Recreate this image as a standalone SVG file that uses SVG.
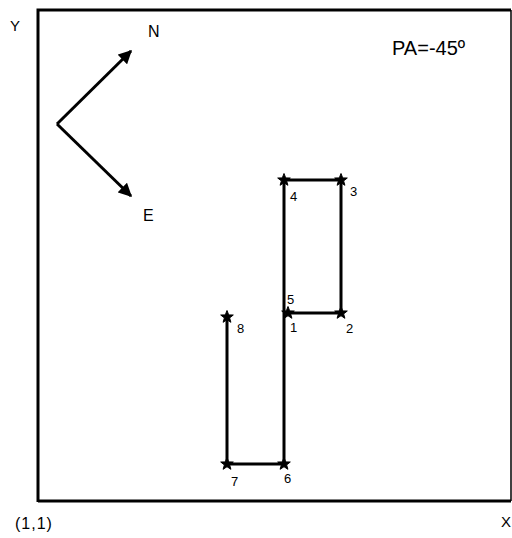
<svg xmlns="http://www.w3.org/2000/svg" width="512" height="538" viewBox="0 0 512 538">
<style>
text{font-family:"Liberation Sans",Arial,sans-serif;fill:#000}
.lbl{font-size:13px}
.ax{font-size:15px}
.path{stroke:#000;stroke-width:3;fill:none}
.cmp{stroke:#000;stroke-width:3;fill:none}
</style>
<defs>
<marker id="ah" viewBox="0 0 10 10" refX="9" refY="5" markerWidth="4.5" markerHeight="4.5" orient="auto" markerUnits="strokeWidth">
<path d="M0,0 L10,5 L0,10 z" fill="#000"/>
</marker>
<polygon id="star" points="0,-6.5 1.7,-2.1 6.3,-2 2.6,0.9 3.9,5.3 0,2.7 -3.9,5.3 -2.6,0.9 -6.3,-2 -1.7,-2.1" fill="#000" stroke="#000" stroke-width="1"/>
</defs>
<rect width="512" height="538" fill="#fff"/>
<g id="frame">
<path d="M38,502 V10 H511" stroke="#000" stroke-width="3" fill="none"/>
<path d="M511,10 V501" stroke="#000" stroke-width="1.5" fill="none"/>
<path d="M38,501 H511" stroke="#000" stroke-width="3" fill="none"/>
</g>
<g id="axis-labels">
<text class="ax" x="10" y="31">Y</text>
<text x="15" y="529" font-size="16" letter-spacing="1">(1,1)</text>
<text class="ax" x="501" y="527">X</text>
<text x="392" y="55" font-size="20">PA=-45º</text>
</g>
<g id="compass">
<line class="cmp" x1="57" y1="124" x2="131" y2="51" marker-end="url(#ah)"/>
<line class="cmp" x1="57" y1="124" x2="131" y2="196" marker-end="url(#ah)"/>
<text x="148" y="37" font-size="16">N</text>
<text x="143" y="221" font-size="16">E</text>
</g>
<g id="connectors">
<polyline class="path" points="288,313 341,313 341,180 284,180 284,464 227,464 227,318"/>
</g>
<g id="p1"><use href="#star" x="288" y="313"/><text class="lbl" x="290" y="332">1</text></g>
<g id="p2"><use href="#star" x="341" y="313"/><text class="lbl" x="346" y="333">2</text></g>
<g id="p3"><use href="#star" x="341" y="180"/><text class="lbl" x="350" y="196">3</text></g>
<g id="p4"><use href="#star" x="284" y="180"/><text class="lbl" x="290" y="201">4</text></g>
<g id="p5"><text class="lbl" x="287" y="304">5</text></g>
<g id="p6"><use href="#star" x="284" y="464"/><text class="lbl" x="284" y="483">6</text></g>
<g id="p7"><use href="#star" x="227" y="464"/><text class="lbl" x="231" y="486">7</text></g>
<g id="p8"><use href="#star" x="227" y="317"/><text class="lbl" x="237" y="333">8</text></g>
</svg>
